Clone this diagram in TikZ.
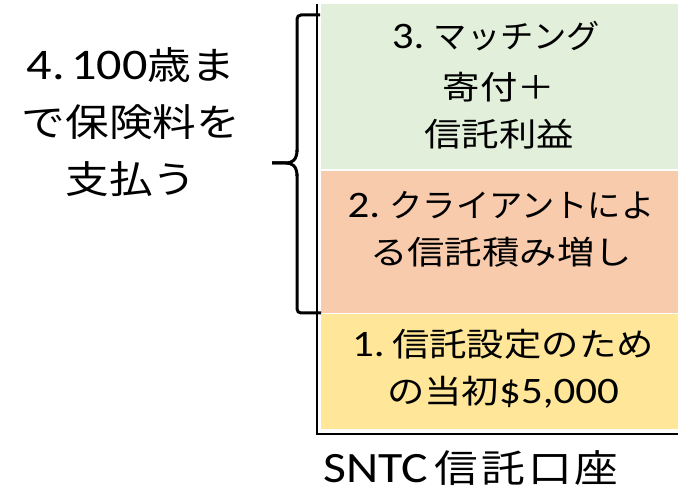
\documentclass[tikz,border=0pt]{standalone}
\usepackage{fontspec}
\newfontfamily\jp{Noto Sans CJK JP}
\newfontfamily\jpls[LetterSpace=7]{Noto Sans CJK JP}
\newfontfamily\lat[Scale=1.15]{Carlito}
\newfontfamily\latbig[Scale=1.14]{Carlito}
\newcommand\kana[1]{\scalebox{0.89}[1]{#1}}
\definecolor{boxgreen}{HTML}{E2EFDA}
\definecolor{boxsalmon}{HTML}{F8CBAD}
\definecolor{boxyellow}{HTML}{FFE699}
\tikzset{
  stretched/.style={xscale=1.15, transform shape},
  rtext/.style={stretched, align=center, font=\fontsize{32.5}{47}\selectfont\jp},
  ltext/.style={stretched, align=center, font=\fontsize{38}{57}\selectfont\jp},
  axisline/.style={line width=2.5pt, black},
  bracket/.style={line width=3pt, black, rounded corners=4pt},
}
\begin{document}
\begin{tikzpicture}[x=1pt,y=-1pt]
\useasboundingbox (0,0) rectangle (678,494);
% bands
\fill[boxgreen] (321,4) rectangle (678,169);
\fill[boxsalmon] (321,171) rectangle (678,313);
\fill[boxyellow] (321,314) rectangle (678,429);
% axes
\coordinate (ax0) at (317,4);
\coordinate (axc) at (317,434);
\coordinate (ax1) at (678,434);
\draw[axisline] (ax0) -- (axc) -- (ax1);
% texts
\node[rtext] (t3a) at (496,36) {{\lat 3.}\hspace{0.25em}\kana{マッチング}};
\node[rtext] (t3b) at (499,111) {寄付＋\\信託利益};
\node[rtext] (t2) at (501,229) {{\lat 2.}\hspace{0.25em}\kana{クライアントによ}\\る信託積み増し};
\node[rtext] (t1) at (503,369) {{\lat 1.}\hspace{0.2em}信託設定のため\\の当初{\lat\$5,000}};
\node[stretched, font=\fontsize{38}{44}\selectfont\jpls] (lbl) at (471,468) {{\latbig SNTC}\hspace{0.15em}信託口座};
\node[ltext] (t4) at (131,122) {{\lat 4.}\hspace{0.15em}{\lat 100}歳ま\\で保険料を\\支払う};
% bracket
\coordinate (bt) at (320,15);
\coordinate (bb) at (321,313);
\coordinate (tip) at (272,163);
\draw[bracket] (bt) -- (297,15) -- (297,152);
\draw[line width=3pt, black] (297,150) .. controls (297,160) and (292,163) .. (286,163) -- (tip);
\draw[line width=3pt, black] (tip) -- (286,163) .. controls (292,163) and (297,166) .. (297,176);
\draw[bracket] (297,174) -- (297,313) -- (bb);
\end{tikzpicture}
\end{document}
